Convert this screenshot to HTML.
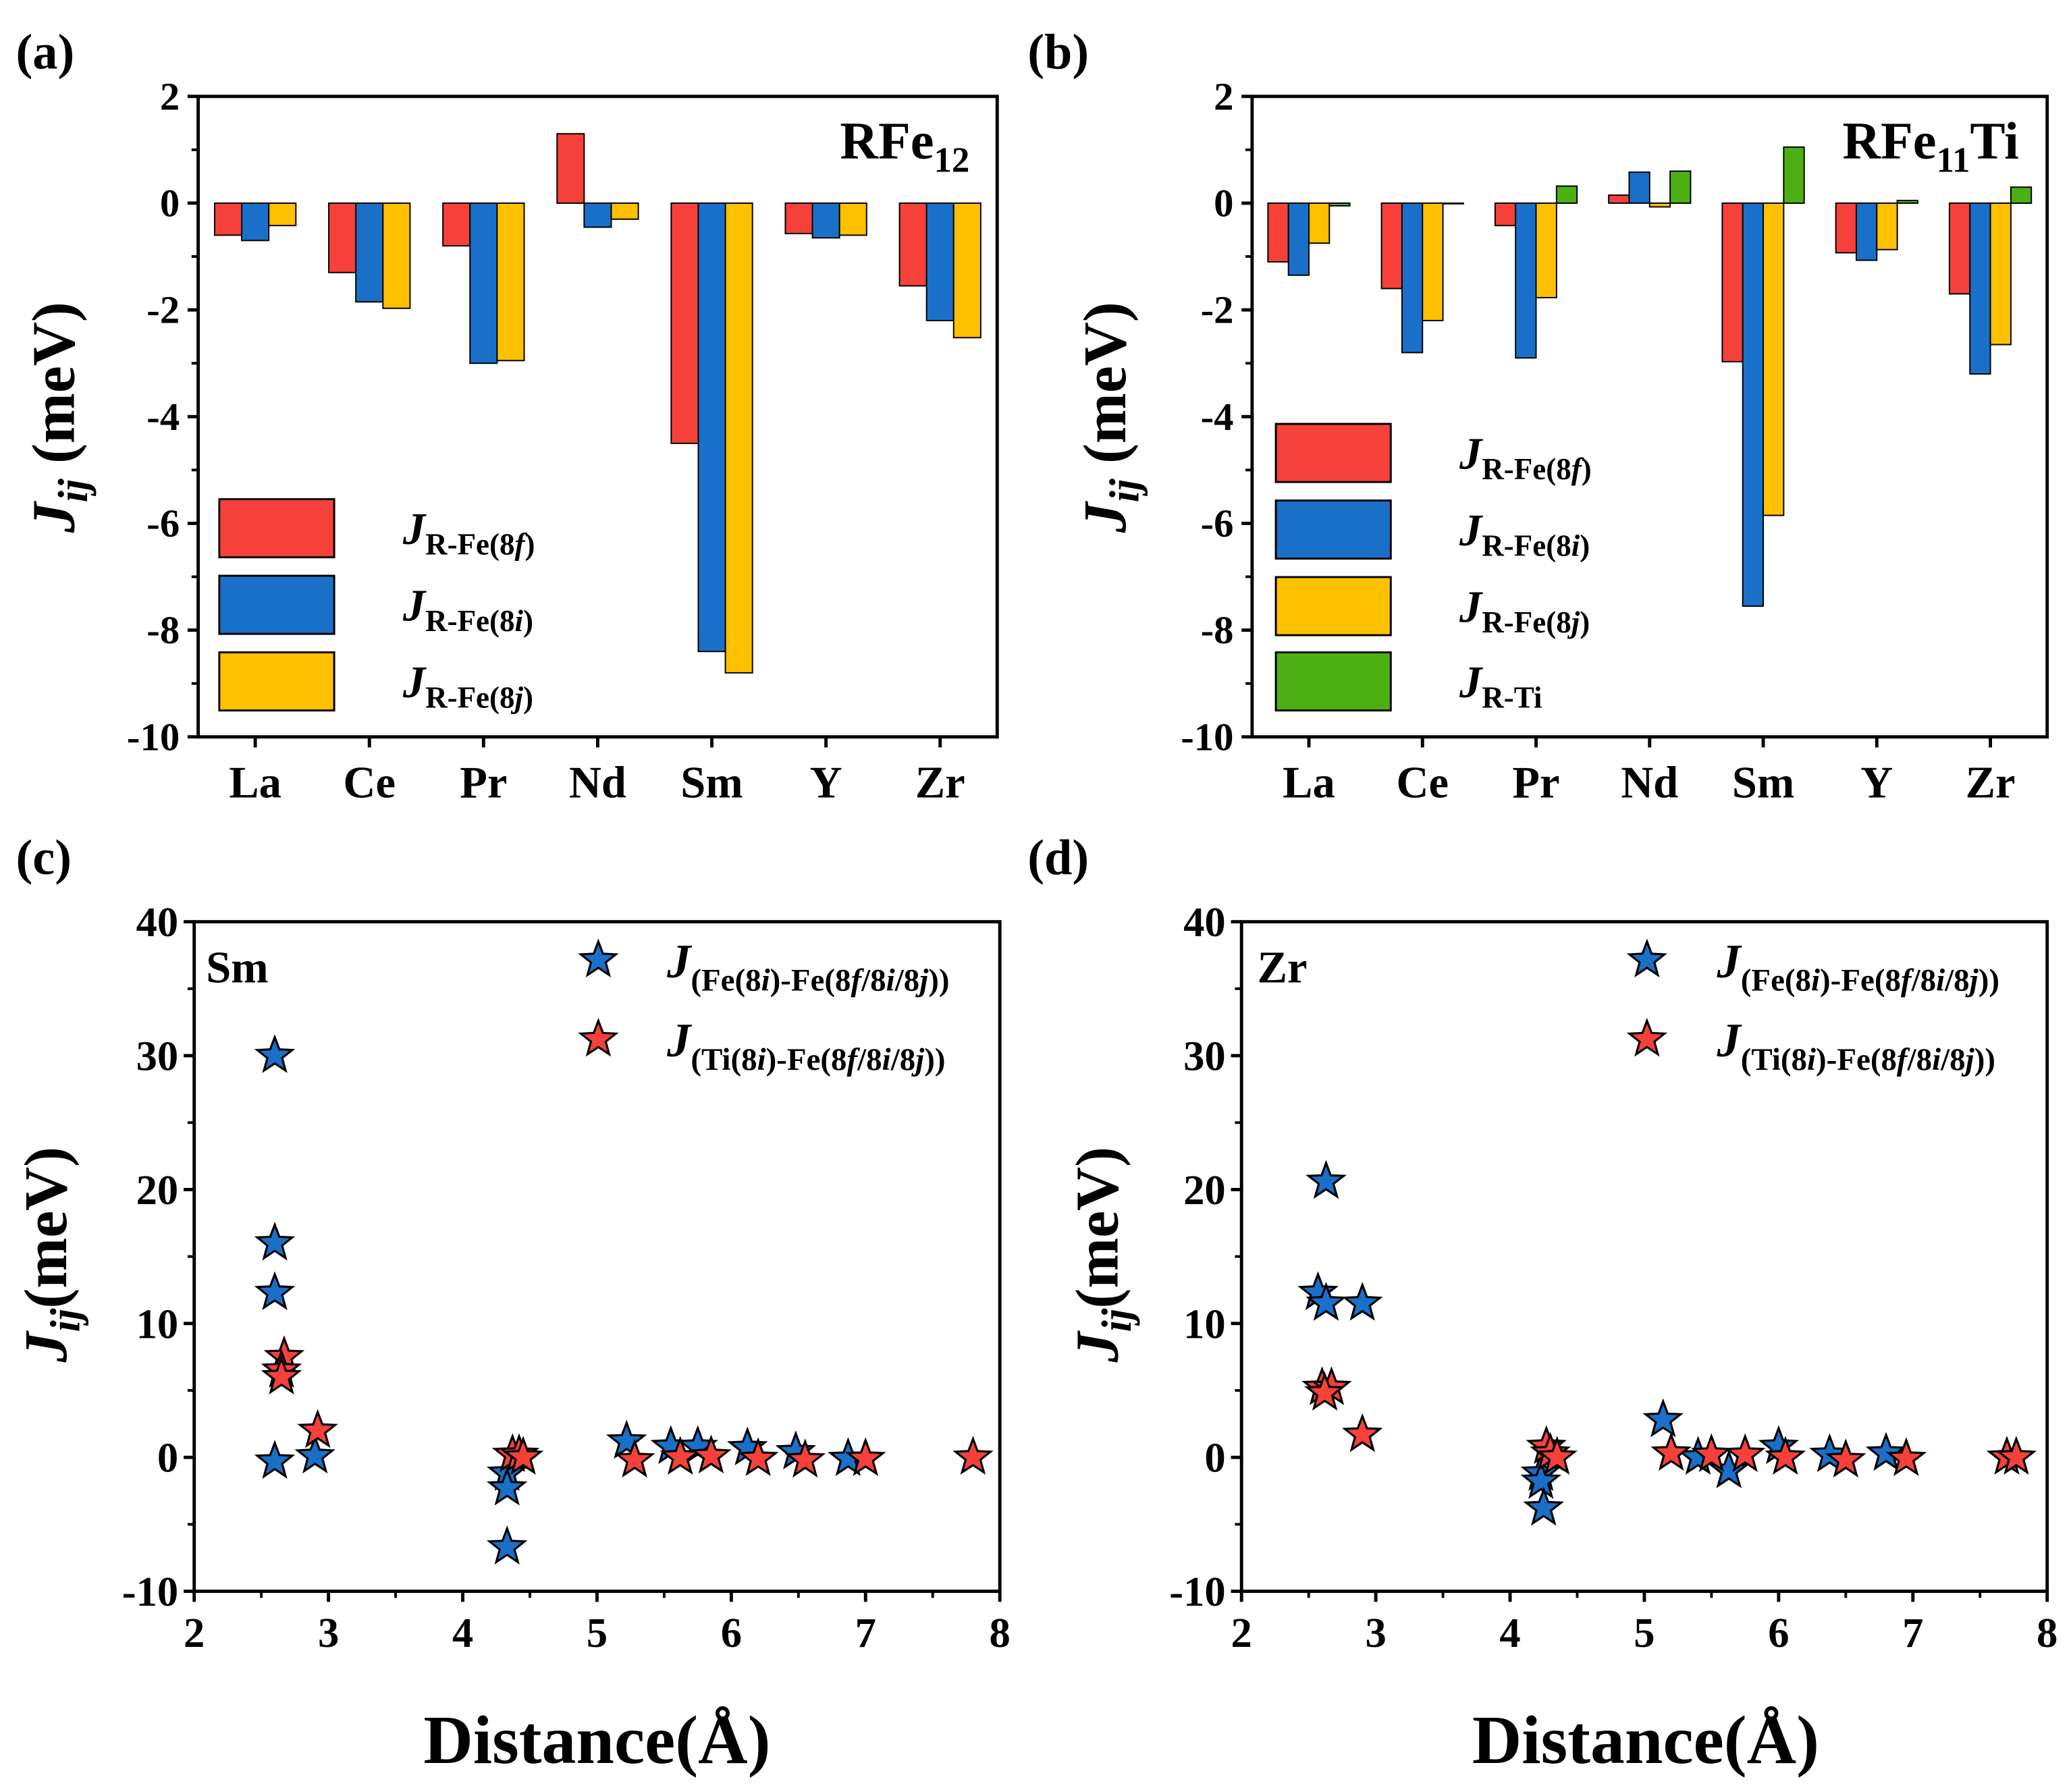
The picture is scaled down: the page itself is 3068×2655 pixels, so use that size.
<!DOCTYPE html>
<html><head><meta charset="utf-8"><style>
html,body{margin:0;padding:0;background:#fff}
svg{display:block;font-family:"Liberation Serif",serif;font-weight:bold}
</style></head><body>
<svg id="fig" width="3068" height="2655" viewBox="0 0 1568 1357" xmlns="http://www.w3.org/2000/svg">
<g id="root"></g>
</svg>
<script>
// ---- data ----
const categories = ["La","Ce","Pr","Nd","Sm","Y","Zr"];
const aRFe8f = [-0.6,-1.3,-0.8,1.3,-4.5,-0.57,-1.55];
const aRFe8i = [-0.7,-1.85,-3.0,-0.45,-8.4,-0.65,-2.2];
const aRFe8j = [-0.42,-1.97,-2.95,-0.3,-8.8,-0.6,-2.52];
const bRFe8f = [-1.1,-1.6,-0.42,0.15,-2.97,-0.93,-1.7];
const bRFe8i = [-1.35,-2.8,-2.9,0.58,-7.55,-1.07,-3.2];
const bRFe8j = [-0.75,-2.2,-1.77,-0.07,-5.85,-0.87,-2.65];
const bRTi   = [-0.05,0,0.32,0.6,1.05,0.05,0.3];
const barTicks = [-10,-8,-6,-4,-2,0,2];
const scatTicksY = [-10,0,10,20,30,40];
const scatTicksX = [2,3,4,5,6,7,8];
const cFeX = [2.6,2.6,2.6,2.6,2.9,4.33,4.33,4.33,5.22,5.55,5.75,6.12,6.48,6.87];
const cFeY = [30,16,12.3,-0.3,0.1,-1.2,-2.3,-6.7,1.2,0.8,0.8,0.7,0.4,-0.1];
const cTiX = [2.67,2.65,2.65,2.92,4.37,4.42,4.45,5.28,5.62,5.85,6.2,6.55,7.0,7.8];
const cTiY = [7.5,6.5,6,2,0.2,0.2,0,-0.2,0,0.1,-0.1,-0.2,-0.1,0];
const dFeX = [2.57,2.63,2.63,2.9,4.23,4.23,4.25,5.14,5.4,5.63,6.0,6.38,6.8];
const dFeY = [12.3,20.6,11.5,11.5,-1.2,-1.8,-3.8,2.8,0,-1,0.8,0.2,0.3];
const dTiX = [2.6,2.67,2.62,2.9,4.27,4.3,4.35,5.2,5.5,5.75,6.05,6.5,6.95,7.7,7.77];
const dTiY = [5.2,5.2,4.8,1.7,0.8,0.3,0,0.3,0.2,0.2,0,-0.2,-0.1,0,0];

const NS="http://www.w3.org/2000/svg";
const root=document.getElementById('root');
const RED="#F5413A",BLUE="#1A70C8",YEL="#FFC000",GRN="#4DB012";
function mk(tag,attrs,parent){const e=document.createElementNS(NS,tag);for(const k in attrs)e.setAttribute(k,attrs[k]);(parent||root).appendChild(e);return e;}
function txt(x,y,s,size,parent,anchor){const t=mk('text',{x:x,y:y,'font-size':size,'text-anchor':anchor||'middle'},parent);t.textContent=s;return t;}

function barPanel(px0,px1,py0,py1,series,colors,bw,name){
  const g=mk('g',{});
  
  
  const ys=v=>py1-(v-(-10))/12*(py1-py0);
  const n=categories.length, cw=(px1-px0)/n;
  series.forEach((arr,si)=>{
    arr.forEach((v,ci)=>{
      const cx=px0+cw*(ci+0.5);
      const x=cx-bw*series.length/2+si*bw;
      const y0=ys(0),y=ys(v);
      const r=mk('rect',{x:x,y:Math.min(y0,y),width:bw,height:Math.max(Math.abs(y-y0),0.5),fill:colors[si],stroke:'#000','stroke-width':1},g);
      
      
    });
  });
  mk('rect',{x:px0,y:py0,width:px1-px0,height:py1-py0,fill:'none',stroke:'#000','stroke-width':2.5},g);
  barTicks.forEach(t=>{const y=ys(t);mk('line',{x1:px0-8,x2:px0,y1:y,y2:y,stroke:'#000','stroke-width':2.5},g);
    const l=txt(px0-14,y+10,String(t),30,g,'end');
    if(t<2){const ym=ys(t+1);mk('line',{x1:px0-5,x2:px0,y1:ym,y2:ym,stroke:'#000','stroke-width':2},g);}});
  categories.forEach((c,ci)=>{const x=px0+cw*(ci+0.5);mk('line',{x1:x,x2:x,y1:py1,y2:py1+8,stroke:'#000','stroke-width':2.5},g);
    const l=txt(x,py1+46,c,34,g);});
  return g;
}
function star(cx,cy,r,fill,g){let p=[];for(let i=0;i<10;i++){const a=-Math.PI/2+i*Math.PI/5;const rr=i%2?r*0.42:r;p.push((cx+rr*Math.cos(a)).toFixed(1)+','+(cy+rr*Math.sin(a)).toFixed(1));}
  return mk('polygon',{points:p.join(' '),fill:fill,stroke:'#000','stroke-width':1.6},g);}
function scatPanel(px0,px1,py0,py1,sets,name){
  const g=mk('g',{});
  
  
  const xs=v=>px0+(v-2)/6*(px1-px0), ys=v=>py1-(v+10)/50*(py1-py0);
  sets.forEach(s=>{s.x.forEach((xv,i)=>{const st=star(xs(xv),ys(s.y[i]),14,s.c,g);});});
  mk('rect',{x:px0,y:py0,width:px1-px0,height:py1-py0,fill:'none',stroke:'#000','stroke-width':2.5},g);
  scatTicksY.forEach(t=>{const y=ys(t);mk('line',{x1:px0-8,x2:px0,y1:y,y2:y,stroke:'#000','stroke-width':2.5},g);
    const l=txt(px0-12,y+11,String(t),32,g,'end');
    if(t<40){const ym=ys(t+5);mk('line',{x1:px0-5,x2:px0,y1:ym,y2:ym,stroke:'#000','stroke-width':2},g);}});
  scatTicksX.forEach(t=>{const x=xs(t);mk('line',{x1:x,x2:x,y1:py1,y2:py1+8,stroke:'#000','stroke-width':2.5},g);
    const l=txt(x,py1+42,String(t),32,g);
    if(t<8){const xm=xs(t+0.5);mk('line',{x1:xm,x2:xm,y1:py1,y2:py1+5,stroke:'#000','stroke-width':2},g);}});
  return g;
}
barPanel(150,755,73,558,[aRFe8f,aRFe8i,aRFe8j],[RED,BLUE,YEL],20.5,'panel-a-bars');
barPanel(948,1550,73,558,[bRFe8f,bRFe8i,bRFe8j,bRTi],[RED,BLUE,YEL,GRN],15.5,'panel-b-bars');
scatPanel(147,757,698,1205,[{x:cFeX,y:cFeY,c:BLUE,n:'star-fe'},{x:cTiX,y:cTiY,c:RED,n:'star-ti'}],'panel-c-scatter');
scatPanel(940,1550,698,1205,[{x:dFeX,y:dFeY,c:BLUE,n:'star-fe'},{x:dTiX,y:dTiY,c:RED,n:'star-ti'}],'panel-d-scatter');

// legend stars
[[453,727,BLUE],[453,787,RED],[1247,727,BLUE],[1247,787,RED]].forEach(a=>{const s=star(a[0],a[1],14,a[2]);});
</script>
<svg x="0" y="0" width="1568" height="1357" viewBox="0 0 1568 1357" style="position:absolute;left:0;top:0"></svg>
<script>
const R2=document.getElementById('root');
function add(html){const g=document.createElementNS("http://www.w3.org/2000/svg",'g');g.innerHTML=html;R2.appendChild(g);}
add(`
<text x="12" y="52" font-size="38">(a)</text>
<text x="778" y="52" font-size="38">(b)</text>
<text x="12" y="662" font-size="38">(c)</text>
<text x="778" y="662" font-size="38">(d)</text>
<text x="636" y="120" font-size="40">RFe<tspan font-size="27" dy="10">12</tspan></text>
<text x="1395" y="120" font-size="40">RFe<tspan font-size="27" dy="10">11</tspan><tspan dy="-10">Ti</tspan></text>
<text x="156" y="744" font-size="34">Sm</text>
<text x="952" y="744" font-size="34">Zr</text>
<text transform="translate(56,316) rotate(-90)" text-anchor="middle" font-size="46"><tspan font-style="italic">J</tspan><tspan font-style="italic" font-size="32" dy="10">ij</tspan><tspan dy="-10"> (meV)</tspan></text>
<text transform="translate(852,316) rotate(-90)" text-anchor="middle" font-size="46"><tspan font-style="italic">J</tspan><tspan font-style="italic" font-size="32" dy="10">ij</tspan><tspan dy="-10"> (meV)</tspan></text>
<text transform="translate(50,950) rotate(-90)" text-anchor="middle" font-size="46"><tspan font-style="italic">J</tspan><tspan font-style="italic" font-size="32" dy="10">ij</tspan><tspan dy="-10">(meV)</tspan></text>
<text transform="translate(846,950) rotate(-90)" text-anchor="middle" font-size="46"><tspan font-style="italic">J</tspan><tspan font-style="italic" font-size="32" dy="10">ij</tspan><tspan dy="-10">(meV)</tspan></text>
<text x="452" y="1335" text-anchor="middle" font-size="52">Distance(Å)</text>
<text x="1246" y="1335" text-anchor="middle" font-size="52">Distance(Å)</text>
`);
function leg(x,y,color,sub,name){add(`<g><rect x="${x}" y="${y}" width="87" height="44" fill="${color}" stroke="#000" stroke-width="1.5"/><text x="${x+139}" y="${y+34}" font-size="34"><tspan font-style="italic">J</tspan><tspan font-size="23" dy="8">${sub}</tspan></text></g>`);}
const s8f='R-Fe(8<tspan font-style="italic">f</tspan>)', s8i='R-Fe(8<tspan font-style="italic">i</tspan>)', s8j='R-Fe(8<tspan font-style="italic">j</tspan>)';
leg(166,378,RED,s8f,'legend-entry-8f-a');leg(166,436,BLUE,s8i,'legend-entry-8i-a');leg(166,494,YEL,s8j,'legend-entry-8j-a');
leg(966,321,RED,s8f,'legend-entry-8f-b');leg(966,379,BLUE,s8i,'legend-entry-8i-b');leg(966,437,YEL,s8j,'legend-entry-8j-b');leg(966,494,GRN,'R-Ti','legend-entry-ti-b');
const fe='(Fe(8<tspan font-style="italic">i</tspan>)-Fe(8<tspan font-style="italic">f</tspan>/8<tspan font-style="italic">i</tspan>/8<tspan font-style="italic">j</tspan>))';
const ti='(Ti(8<tspan font-style="italic">i</tspan>)-Fe(8<tspan font-style="italic">f</tspan>/8<tspan font-style="italic">i</tspan>/8<tspan font-style="italic">j</tspan>))';
[[505,740,fe,'legend-entry-fe-c'],[505,800,ti,'legend-entry-ti-c'],[1300,740,fe,'legend-entry-fe-d'],[1300,800,ti,'legend-entry-ti-d']].forEach(a=>{
add(`<text x="${a[0]}" y="${a[1]}" font-size="36"><tspan font-style="italic">J</tspan><tspan font-size="24" dy="10">${a[2]}</tspan></text>`);});
</script>
</body></html>
